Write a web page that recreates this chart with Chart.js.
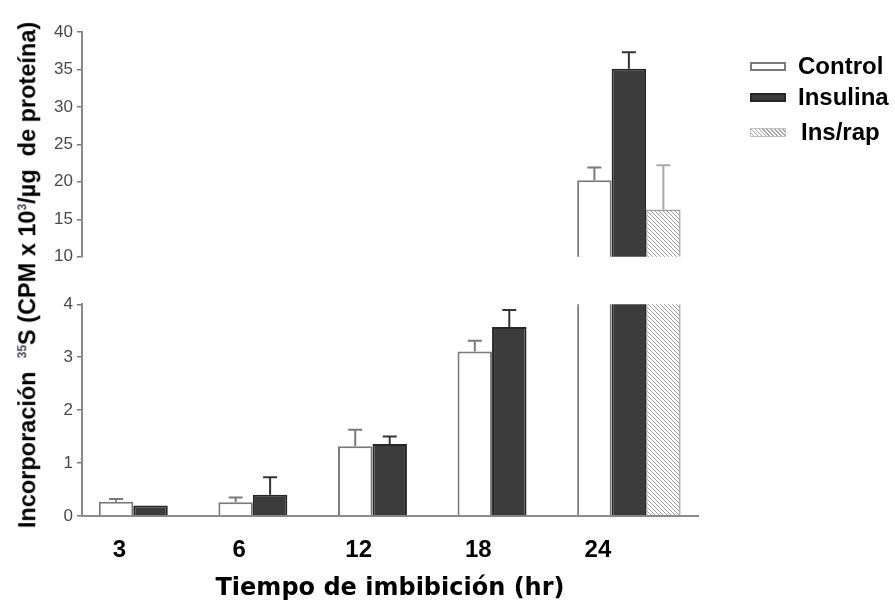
<!DOCTYPE html>
<html><head><meta charset="utf-8">
<script src="https://cdn.jsdelivr.net/npm/chart.js@4"></script>
<style>
html,body{margin:0;padding:0;background:#fff;width:895px;height:613px;overflow:hidden;}
#wrap{position:relative;width:895px;height:613px;}
canvas{position:absolute;left:0;top:0;}
#ytitle{position:absolute;left:28px;top:275px;transform:translate(-50%,-50%) rotate(-90deg);white-space:pre;font:bold 23.5px "Liberation Sans",Arial,sans-serif;color:#000;line-height:1;}
#ytitle sup{font-size:12px;color:#445;vertical-align:9px;}
.item{position:absolute;left:750px;height:30px;display:flex;align-items:center;font:bold 24px "Liberation Sans",Arial,sans-serif;color:#000;}
.sw{width:36px;height:9px;box-sizing:border-box;margin-right:12px;}
</style></head>
<body><div id="wrap">
<canvas id="top" width="895" height="613"></canvas>
<canvas id="bot" width="895" height="613"></canvas>
<div id="ytitle">Incorporación  <sup>35</sup>S (CPM x 10<sup>3</sup>/µg  de proteína)</div>
<div id="legend"></div>
</div>
<script>
// ---- data ----
const categories = ['3', '6', '12', '18', '24'];
const seriesNames = ['Control', 'Insulina', 'Ins/rap'];
const control = [0.27, 0.26, 1.32, 3.11, 20.2];
const controlErr = [0.05, 0.09, 0.31, 0.20, 1.7];
const insulina = [0.20, 0.40, 1.36, 3.57, 35.1];
const insulinaErr = [0, 0.33, 0.14, 0.32, 2.2];
const insrap = [0, 0, 0, 0, 16.3];
const insrapErr = [0, 0, 0, 0, 5.9];
const upperTicks = [10, 15, 20, 25, 30, 35, 40];
const lowerTicks = [0, 1, 2, 3, 4];
const xTitle = 'Tiempo de imbibición (hr)';

// ---- styles ----
function hatchPattern() {
  const c = document.createElement('canvas'); c.width = 4; c.height = 4;
  const g = c.getContext('2d');
  g.fillStyle = '#ffffff'; g.fillRect(0, 0, 4, 4);
  g.strokeStyle = '#a0a0a0'; g.lineWidth = 1;
  g.beginPath();
  g.moveTo(0, 0); g.lineTo(4, 4);
  g.moveTo(-1, 3); g.lineTo(1, 5);
  g.moveTo(3, -1); g.lineTo(5, 1);
  g.stroke();
  return g.createPattern(c, 'repeat');
}
const styles = [
  {bg: '#ffffff', border: '#7a7a7a', bw: 2, err: '#7a7a7a', swatch: 'background:#fff;border:2px solid #7a7a7a;'},
  {bg: '#3c3c3c', border: '#262626', bw: 2, err: '#333333', swatch: 'background:#3c3c3c;border:2px solid #262626;'},
  {bg: hatchPattern(), border: '#a0a0a0', bw: 1.5, err: '#a8a8a8', swatch: 'background:repeating-linear-gradient(45deg,#fff 0 1.5px,#a8a8a8 1.5px 2.8px);border:1px solid #c0c0c0;'}
];
const values = [control, insulina, insrap];
const errors = [controlErr, insulinaErr, insrapErr];

function makeDatasets() {
  return seriesNames.map((name, s) => ({
    label: name,
    data: values[s].map((v, i) => ({x: i, y: v})),
    errors: errors[s],
    errorColor: styles[s].err,
    backgroundColor: styles[s].bg,
    borderColor: styles[s].border,
    borderWidth: styles[s].bw,
    borderSkipped: 'start',
    clip: 0,
    categoryPercentage: 0.865,
    barPercentage: 1.0
  }));
}

const errorBars = {
  id: 'errorBars',
  afterDatasetsDraw(chart) {
    const {ctx, chartArea: a} = chart;
    const y = chart.scales.y;
    ctx.save();
    ctx.beginPath();
    ctx.rect(a.left, a.top - 2, a.right - a.left, a.bottom - a.top + 2);
    ctx.clip();
    chart.data.datasets.forEach((ds, di) => {
      const meta = chart.getDatasetMeta(di);
      meta.data.forEach((bar, i) => {
        const e = ds.errors[i];
        if (!e) return;
        const v = ds.data[i].y;
        const y0 = y.getPixelForValue(v), y1 = y.getPixelForValue(v + e);
        ctx.strokeStyle = ds.errorColor;
        ctx.lineWidth = 2;
        ctx.beginPath();
        ctx.moveTo(bar.x, y0); ctx.lineTo(bar.x, y1);
        ctx.moveTo(bar.x - 7, y1); ctx.lineTo(bar.x + 7, y1);
        ctx.stroke();
      });
    });
    ctx.restore();
  }
};

const X_MIN = -0.573, X_MAX = 4.578;
function xScale(show) {
  return {
    type: 'linear', min: X_MIN, max: X_MAX, offset: false,
    display: show,
    afterBuildTicks: s => { s.ticks = categories.map((c, i) => ({value: i})); },
    afterFit: s => { if (show) { s.height = 97; } s.paddingLeft = 0; s.paddingRight = 0; },
    grid: {display: false, drawTicks: false},
    border: {display: show, color: '#8a8a8a', width: 2},
    ticks: {
      padding: 20, labelOffset: -31, maxRotation: 0, autoSkip: false, includeBounds: false,
      color: '#000', font: {family: '"Liberation Sans", Arial, sans-serif', size: 24, weight: 'bold'},
      callback: v => categories[v] ?? ''
    },
    title: {
      display: show, text: xTitle, color: '#000',
      font: {family: '"DejaVu Sans", sans-serif', size: 24, weight: 'bold', lineHeight: 1.2},
      padding: {top: 0, bottom: 10}
    }
  };
}
function yScale(min, max, ticksArr) {
  return {
    type: 'linear', min: min, max: max,
    afterBuildTicks: s => { s.ticks = ticksArr.map(v => ({value: v})); },
    afterFit: s => { s.width = 40; s.paddingTop = 0; s.paddingBottom = 0; },
    grid: {display: true, drawOnChartArea: false, drawTicks: true, tickLength: 5, color: '#7a7a7a', lineWidth: 1.5},
    border: {display: true, color: '#8a8a8a', width: 2},
    ticks: {padding: 4, color: '#4a4a4a', font: {family: '"Liberation Sans", Arial, sans-serif', size: 17}}
  };
}
const common = {
  responsive: false, animation: false, devicePixelRatio: 1,
  plugins: {legend: {display: false}, tooltip: {enabled: false}}
};

new Chart(document.getElementById('top'), {
  type: 'bar',
  data: {datasets: makeDatasets()},
  options: Object.assign({}, common, {
    layout: {padding: {left: 42, right: 197, top: 32, bottom: 356.3}},
    scales: {x: xScale(false), y: yScale(10, 40, upperTicks)}
  }),
  plugins: [errorBars]
});
new Chart(document.getElementById('bot'), {
  type: 'bar',
  data: {datasets: makeDatasets()},
  options: Object.assign({}, common, {
    layout: {padding: {left: 42, right: 197, top: 304.3, bottom: 0}},
    scales: {x: xScale(true), y: yScale(0, 4, lowerTicks)}
  }),
  plugins: [errorBars]
});

// legend (HTML, from series names and styles)
const legendTops = [51, 82, 117];
const lg = document.getElementById('legend');
seriesNames.forEach((n, s) => {
  const d = document.createElement('div');
  d.className = 'item';
  d.style.top = legendTops[s] + 'px';
  d.innerHTML = '<div class="sw" style="' + styles[s].swatch + '"></div><span' + (s === 2 ? ' style="margin-left:3px"' : '') + '>' + n + '</span>';
  lg.appendChild(d);
});
</script>
</body></html>
